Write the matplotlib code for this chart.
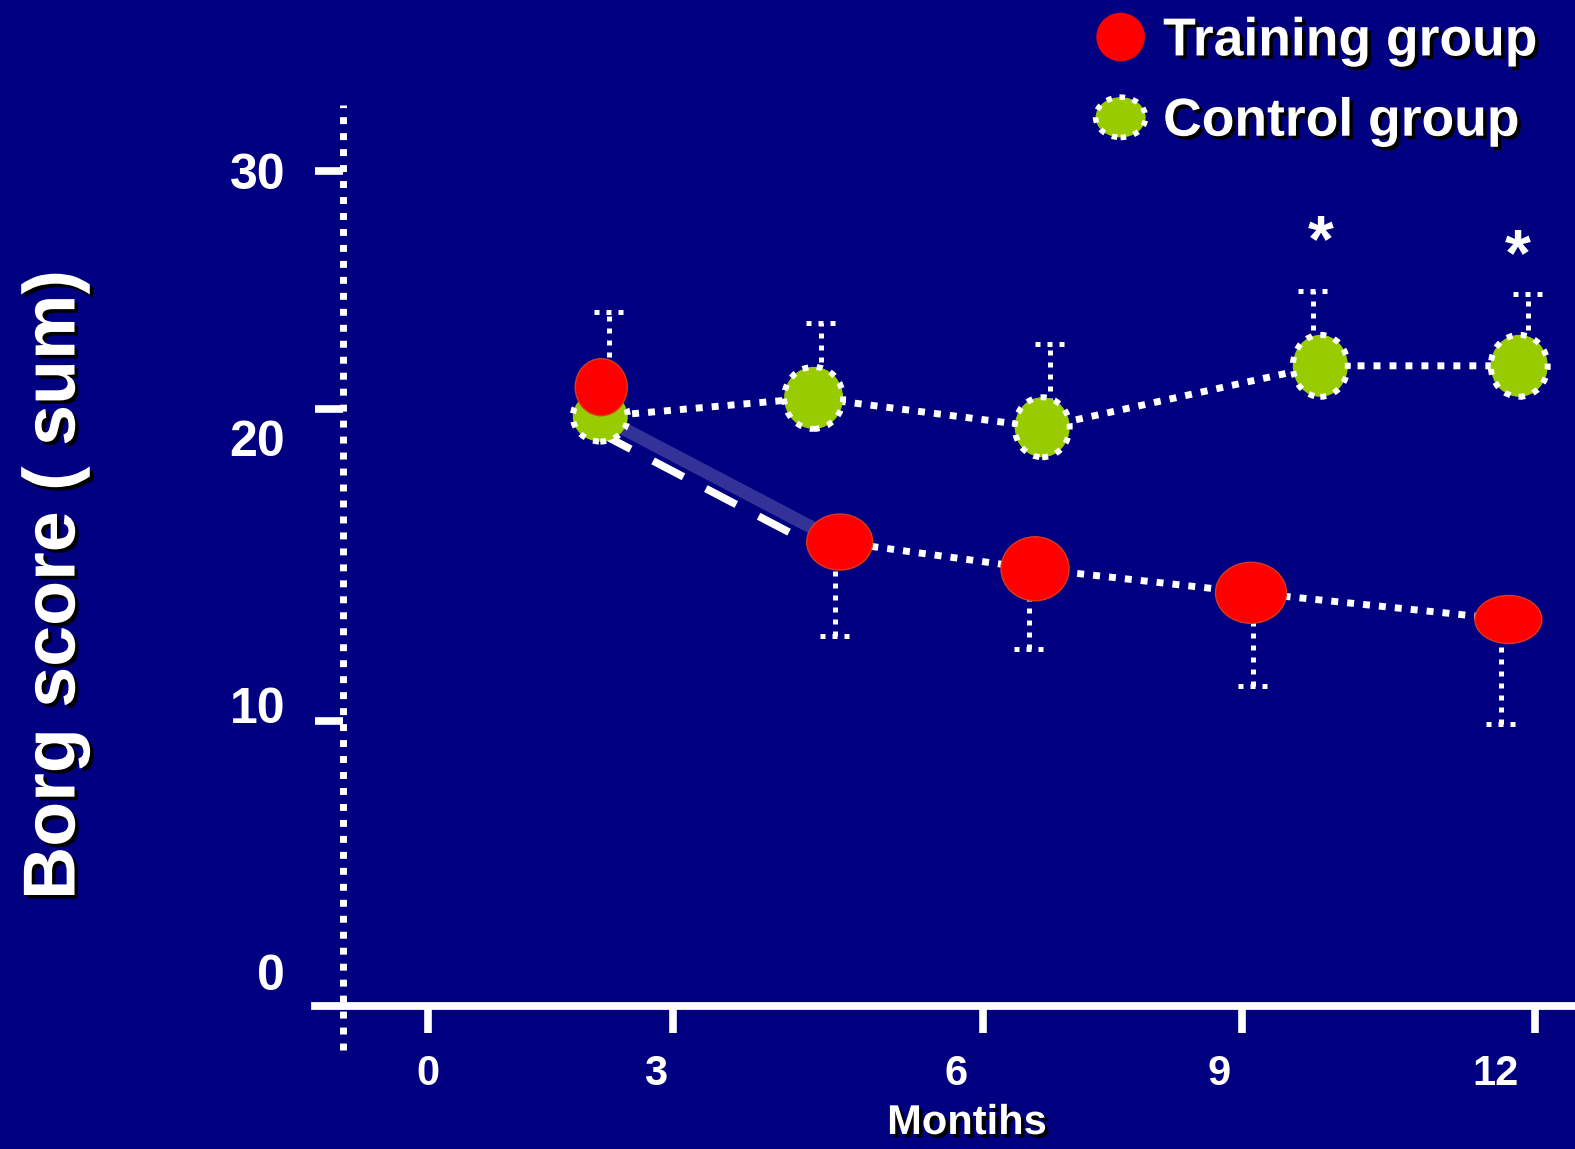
import matplotlib
matplotlib.use("Agg")
import matplotlib.pyplot as plt
import matplotlib.patches as mpatches
import matplotlib.patheffects as pe
from matplotlib.legend_handler import HandlerPatch
from matplotlib.transforms import ScaledTranslation

plt.rcParams["font.family"] = ["Liberation Sans", "DejaVu Sans"]
plt.rcParams["font.weight"] = "bold"

# values (x = months as drawn, y = Borg score)
train_x = [1.92, 4.57, 6.74, 9.14, 12.0]
train_y = [21.9, 16.1, 15.1, 14.2, 13.2]
ctrl_x = [1.91, 4.28, 6.82, 9.91, 12.12]
ctrl_y = [20.8, 21.5, 20.4, 22.7, 22.7]
train_err_x = [4.52, 6.67, 9.16, 11.92]
train_err_low = [12.6, 12.1, 10.7, 9.3]
ctrl_err_x = [2.01, 4.36, 6.91, 9.83, 12.22]
ctrl_err_high = [24.7, 24.3, 23.5, 25.5, 25.4]
star_x = [9.91, 12.1]
star_y = [28.0, 27.45]
xtick_labels = ["0", "3", "6", "9", "12"]
xlabel_pos = [0, 2.53, 5.86, 8.78, 11.86]
xmark_pos = [0, 2.72, 6.16, 9.04, 12.3]
ytick_labels = ["0", "10", "20", "30"]
ylabel_pos = [0, 10, 20, 30]
ymark_pos = [9.4, 21.1, 30]

# marker sizes in pixels (width, height)
train_size = [(52, 57), (66, 56), (68, 64), (71, 61), (67, 48)]
ctrl_size = [(55, 50), (59, 62), (55, 60), (55, 62), (57, 62)]

navy = "#000080"
red = "#FF0000"
green = "#99CC00"
dot = (0, (1, 1.3))
shadow = [pe.withSimplePatchShadow(offset=(2.5, -2.5), shadow_rgbFace="black", alpha=1.0)]

W, H = 1575, 1149
fig = plt.figure(figsize=(W / 100, H / 100), dpi=100, facecolor=navy)
ax = fig.add_axes([0, 0, 1, 1], facecolor=navy)
xmin, xmax = -4.76, 12.74
ymin, ymax = -6.63, 36.40
ax.set_xlim(xmin, xmax)
ax.set_ylim(ymin, ymax)
px_x = W / (xmax - xmin)
px_y = H / (ymax - ymin)

# error bars (dotted, with dotted caps)
cap = 15 / px_x
ax.vlines(train_err_x, train_err_low, train_y[1:], color="white", lw=3.6, linestyles=[(0, (1, 1.4))], zorder=1)
ax.hlines(train_err_low, [x - cap for x in train_err_x], [x + cap for x in train_err_x],
          color="white", lw=3.6, linestyles=[(0, (1, 1.4))], zorder=1)
ax.vlines(ctrl_err_x, ctrl_y, ctrl_err_high, color="white", lw=3.6, linestyles=[(0, (1, 1.4))], zorder=1)
ax.hlines(ctrl_err_high, [x - cap for x in ctrl_err_x], [x + cap for x in ctrl_err_x],
          color="white", lw=3.6, linestyles=[(0, (1, 1.4))], zorder=1)

# connecting lines
ax.plot(ctrl_x, ctrl_y, color="white", lw=5, ls=dot, zorder=2)
ax.plot(train_x[1:], train_y[1:], color="white", lw=5, ls=dot, zorder=2)
ax.plot([ctrl_x[0], train_x[1]], [ctrl_y[0], train_y[1]], color="white", alpha=0.2, lw=9.5,
        solid_capstyle="butt", zorder=2)
shift = ax.transData + ScaledTranslation(0, -12 / 72, fig.dpi_scale_trans)
ax.plot([ctrl_x[0], train_x[1]], [ctrl_y[0], train_y[1]], color="white", lw=5.5,
        ls=(0, (4.5, 3.3)), dash_capstyle="butt", transform=shift, zorder=2)

# markers
for x, y, (w, h) in zip(ctrl_x, ctrl_y, ctrl_size):
    ax.add_patch(mpatches.Ellipse((x, y), w / px_x, h / px_y, facecolor=green, edgecolor="white",
                                  lw=4.3, ls=(0, (1, 1.4)), zorder=3))
for x, y, (w, h) in zip(train_x, train_y, train_size):
    ax.add_patch(mpatches.Ellipse((x, y), w / px_x, h / px_y, facecolor=red, edgecolor="#D83A1A",
                                  lw=1, zorder=4))

# significance stars
for x, y in zip(star_x, star_y):
    ax.text(x, y, "*", color="white", fontsize=48, ha="center", va="center",
            transform=ax.transData + ScaledTranslation(0, -14 / 72, fig.dpi_scale_trans))

# axes
for s in ["top", "right"]:
    ax.spines[s].set_visible(False)
ax.spines["left"].set_position(("data", -0.944))
ax.spines["left"].set_bounds(-2.92, 32.45)
ax.spines["left"].set_linestyle(dot)
ax.spines["left"].set_linewidth(5)
ax.spines["left"].set_color("white")
ax.spines["left"].set_capstyle("butt")
ax.spines["bottom"].set_position(("data", -1.27))
ax.spines["bottom"].set_bounds(-1.26, xmax)
ax.spines["bottom"].set_linewidth(5.6)
ax.spines["bottom"].set_color("white")

ax.xaxis.remove_overlapping_locs = False
ax.yaxis.remove_overlapping_locs = False
ax.set_xticks(xlabel_pos, xtick_labels)
ax.set_xticks(xmark_pos, minor=True)
ax.tick_params(axis="x", which="major", length=0, pad=35, labelsize=30, labelcolor="white")
ax.tick_params(axis="x", which="minor", length=19.5, width=5.5, color="white", direction="out")
ax.set_yticks(ylabel_pos, ytick_labels)
ax.set_yticks(ymark_pos, minor=True)
ax.tick_params(axis="y", which="major", length=0, pad=42, labelsize=36, labelcolor="white")
ax.tick_params(axis="y", which="minor", length=20, width=5.5, color="white", direction="out")

fig.text(967 / W, 1 - 1123 / H, "Montihs", color="white", fontsize=30, ha="center", va="center",
         path_effects=shadow)
fig.text(55 / W, 1 - 585 / H, "Borg score ( sum)", color="white", fontsize=53, rotation=90,
         ha="center", va="center", path_effects=shadow)


# legend
class HandlerEllipse(HandlerPatch):
    def create_artists(self, legend, orig_handle, xdescent, ydescent, width, height, fontsize, trans):
        center = (0.5 * width - xdescent, 0.5 * height - ydescent)
        e = mpatches.Ellipse(center, orig_handle.get_width(), orig_handle.get_height())
        self.update_prop(e, orig_handle, legend)
        e.set_transform(trans)
        return [e]


h_train = mpatches.Ellipse((0, 0), 35, 35, facecolor=red, edgecolor="none")
h_ctrl = mpatches.Ellipse((0, 0), 36, 29, facecolor=green, edgecolor="white", lw=4, ls=(0, (1, 1.4)))
leg = ax.legend([h_train, h_ctrl], ["Training group", "Control group"],
                handler_map={mpatches.Ellipse: HandlerEllipse()},
                loc="upper right", bbox_to_anchor=(1538 / W, 1 - 14 / H), bbox_transform=fig.transFigure,
                frameon=False, fontsize=38.5, borderpad=0, borderaxespad=0, handlelength=0.95,
                handleheight=0.95, handletextpad=0.32, labelspacing=0.52, labelcolor="white")
for t in leg.get_texts():
    t.set_path_effects(shadow)

fig.savefig("out.png", dpi=100, facecolor=navy)
